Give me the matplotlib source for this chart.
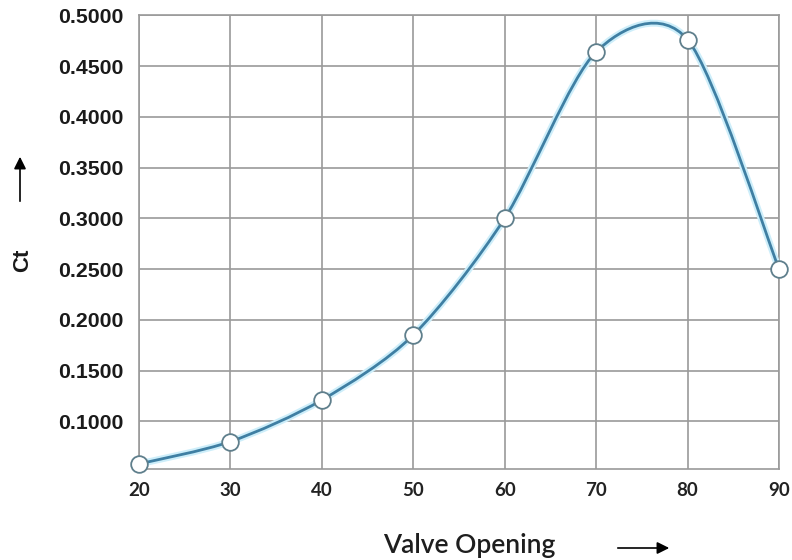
import matplotlib
matplotlib.use("Agg")
import matplotlib.pyplot as plt
from matplotlib.path import Path
from matplotlib.patches import PathPatch, FancyArrowPatch
import numpy as np

valve_opening = [20, 30, 40, 50, 60, 70, 80, 90]
ct_values = [0.058, 0.080, 0.121, 0.185, 0.300, 0.464, 0.476, 0.250]
y_ticks = [0.1, 0.15, 0.2, 0.25, 0.3, 0.35, 0.4, 0.45, 0.5]
x_ticks = [20, 30, 40, 50, 60, 70, 80, 90]

LINE = "#3f7fa3"
GRID = "#9a9a9a"

fig = plt.figure(figsize=(7.92, 5.6), dpi=100)
ax = fig.add_axes([0.1755, 0.1625, 0.8081, 0.8102])

# Smooth curve (Catmull-Rom style converted to cubic Bezier segments)
xs = np.array(valve_opening, float)
ys = np.array(ct_values, float)
n = len(xs)
k = 7.0
verts = [(xs[0], ys[0])]
codes = [Path.MOVETO]
for i in range(n - 1):
    p0 = (xs[i - 1], ys[i - 1]) if i > 0 else (xs[i], ys[i])
    p1 = (xs[i], ys[i])
    p2 = (xs[i + 1], ys[i + 1])
    p3 = (xs[i + 2], ys[i + 2]) if i + 2 < n else (xs[i + 1], ys[i + 1])
    c1 = (p1[0] + (p2[0] - p0[0]) / k, p1[1] + (p2[1] - p0[1]) / k)
    c2 = (p2[0] - (p3[0] - p1[0]) / k, p2[1] - (p3[1] - p1[1]) / k)
    verts += [c1, c2, p2]
    codes += [Path.CURVE4] * 3
path = Path(verts, codes)
ax.add_patch(PathPatch(path, facecolor="none", edgecolor="#cdeefa", lw=5, zorder=3, clip_on=False))
ax.add_patch(PathPatch(path, facecolor="none", edgecolor=LINE, lw=2, zorder=4, clip_on=False))

ax.plot(valve_opening, ct_values, linestyle="none", marker="o", markersize=12,
        markerfacecolor="white", markeredgecolor="#5f7f8c", markeredgewidth=1.3,
        zorder=5, clip_on=False)

ax.set_xlim(20, 90)
ax.set_ylim(0.053, 0.5)
ax.set_xticks(x_ticks)
ax.set_yticks(y_ticks)
ax.set_yticklabels([f"{v:.4f}" for v in y_ticks], fontfamily="Liberation Sans",
                   fontweight="bold", fontsize=15.3, color="#1a1a1a")
ax.set_xticklabels([str(v) for v in x_ticks], fontfamily="Lato",
                   fontweight="bold", fontsize=13.5, color="#222222")
ax.tick_params(axis="both", length=0)
ax.tick_params(axis="y", pad=11.5)
ax.tick_params(axis="x", pad=9.5)
ax.grid(True, color=GRID, lw=1.2)
ax.set_axisbelow(True)
for s in ax.spines.values():
    s.set_color(GRID)
    s.set_linewidth(1.2)

fig.text(469 / 792, 1 - 545 / 560, "Valve Opening", fontfamily="Lato", fontsize=19,
         fontweight="semibold", color="#1e1e1e", ha="center", va="center")
fig.text(23 / 792, 1 - 260 / 560, "Ct", fontfamily="Liberation Sans", fontsize=16,
         fontweight="bold", rotation=90, ha="center", va="center", color="#1a1a1a")

fig.patches.append(FancyArrowPatch((615 / 792, 1 - 548 / 560), (672 / 792, 1 - 548 / 560),
                                   transform=fig.transFigure, arrowstyle="-|>",
                                   mutation_scale=18, color="black", lw=1.2))
fig.patches.append(FancyArrowPatch((20 / 792, 1 - 204 / 560), (20 / 792, 1 - 154 / 560),
                                   transform=fig.transFigure, arrowstyle="-|>",
                                   mutation_scale=18, color="black", lw=1.2))

fig.savefig("out.png", dpi=100)
